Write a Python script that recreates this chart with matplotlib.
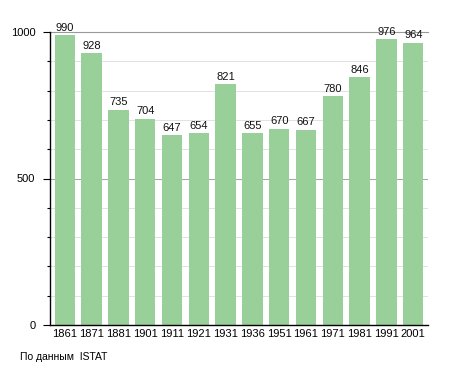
import matplotlib
matplotlib.use("Agg")
import matplotlib.pyplot as plt
import numpy as np

years = ["1861", "1871", "1881", "1901", "1911", "1921", "1931", "1936",
         "1951", "1961", "1971", "1981", "1991", "2001"]
population = [990, 928, 735, 704, 647, 654, 821, 655, 670, 667, 780, 846, 976, 964]
source_note = "По данным  ISTAT"

plt.rcParams['font.family'] = ['Liberation Sans', 'DejaVu Sans']

fig = plt.figure(figsize=(4.55, 3.73), dpi=100)
ax = fig.add_axes([50/455, 1-325/373, (428-50)/455, (325-32)/373])

x = np.arange(len(years))
ax.bar(x, population, width=0.76, color='#99cf99', zorder=2)

for xi, v in zip(x, population):
    ax.text(xi, v + 8, str(v), ha='center', va='bottom', fontsize=8, color='#111111', zorder=3)

ax.set_xlim(-0.55, len(years) - 0.45)
ax.set_ylim(0, 1000)
ax.set_xticks(x)
ax.set_xticklabels(years, fontsize=8)
ax.set_yticks([0, 500, 1000])
ax.set_yticks(np.arange(100, 1000, 100), minor=True)
ax.tick_params(axis='y', which='major', length=5, width=0.8, labelsize=8, pad=5.5)
ax.tick_params(axis='y', which='minor', length=2.5, width=0.8)
ax.tick_params(axis='x', length=0, pad=3)

for yv in range(100, 1000, 100):
    if yv != 500:
        ax.axhline(yv, color='#e2e2e2', lw=0.7, zorder=1)
ax.axhline(500, color='#aaaaaa', lw=0.8, zorder=1)
ax.axhline(1000, color='#999999', lw=0.8, zorder=1, clip_on=False)

for s in ['top', 'right']:
    ax.spines[s].set_visible(False)
ax.spines['left'].set_linewidth(1.0)
ax.spines['bottom'].set_linewidth(1.0)

fig.text(20/455, 1-357/373, source_note, fontsize=7.5, va='center', ha='left')

fig.savefig("out.png", dpi=100)
